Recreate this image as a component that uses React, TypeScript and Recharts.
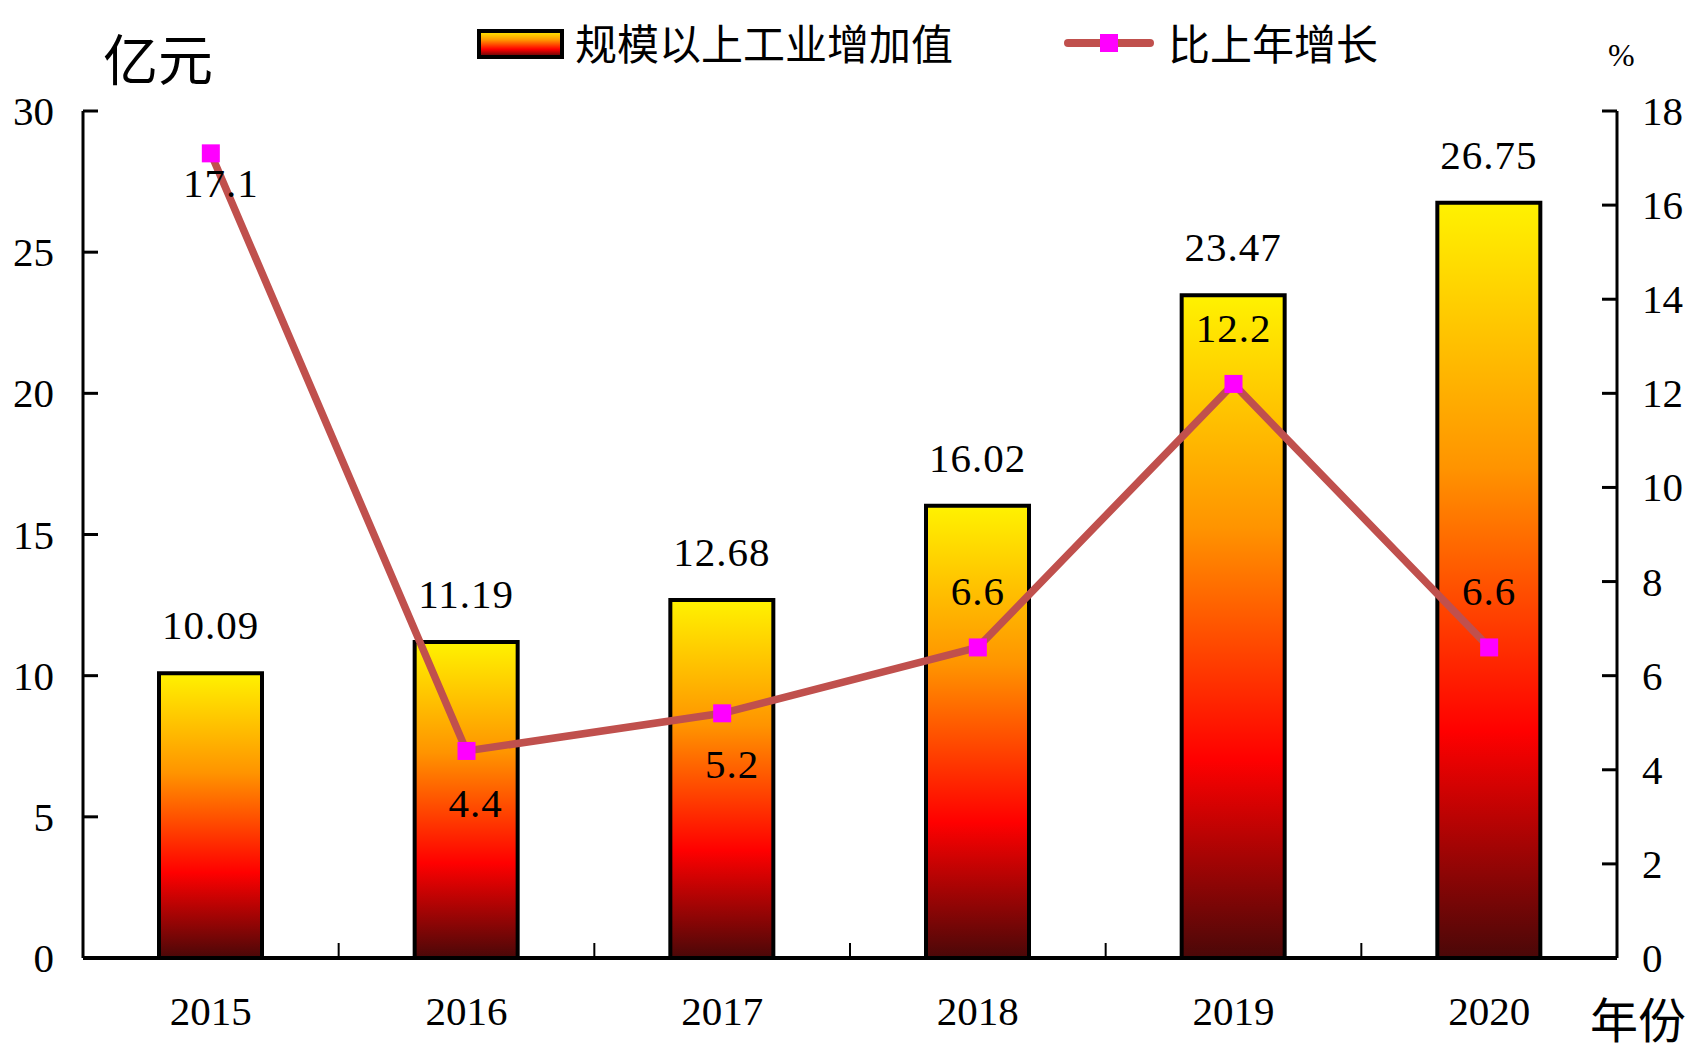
import { Bar, ComposedChart, LabelList, Legend, Line, XAxis, YAxis } from "recharts";

document.body.style.margin = "0";

const years = ["2015", "2016", "2017", "2018", "2019", "2020"];
const addedValue = [10.09, 11.19, 12.68, 16.02, 23.47, 26.75];
const growthRate = [17.1, 4.4, 5.2, 6.6, 12.2, 6.6];
const leftTicks = [0, 5, 10, 15, 20, 25, 30];
const rightTicks = [0, 2, 4, 6, 8, 10, 12, 14, 16, 18];

const data = years.map((year, i) => ({ year, value: addedValue[i], growth: growthRate[i] }));

const WIDTH = 1696;
const HEIGHT = 1053;
const TOP = 111;
const LEFT_AXIS_W = 83;
const RIGHT_AXIS_W = 79;
const X_AXIS_H = 95;
const HALF_BAND = (WIDTH - LEFT_AXIS_W - RIGHT_AXIS_W) / years.length / 2;

const NUM_FONT = '"Liberation Serif", "DejaVu Serif", serif';
const CJK_FONT = '"Noto Sans CJK SC", sans-serif';
const LINE_COLOR = "#C0504D";
const MARKER_COLOR = "#FF00FF";

// where the growth labels sit relative to their point (first three below, rest above)
const growthLabelDy = [44, 66, 65, -42, -42, -42];
const growthLabelDx = [10, 9, 10, 0, 0, 0];

function gradientStops() {
  return [
    <stop key="a" offset="0%" stopColor="#FFF200" />,
    <stop key="b" offset="35%" stopColor="#FF9400" />,
    <stop key="c" offset="70%" stopColor="#FF0000" />,
    <stop key="d" offset="100%" stopColor="#4A0808" />,
  ];
}

function LeftTick({ x, y, payload }: any) {
  return (
    <g>
      <line x1={x} x2={x + 15} y1={y} y2={y} stroke="#000" strokeWidth={3} />
      <text x={x - 29} y={y + 14} textAnchor="end" fontFamily={NUM_FONT} fontSize={41} fill="#000">
        {payload.value}
      </text>
    </g>
  );
}

function RightTick({ x, y, payload }: any) {
  return (
    <g>
      <line x1={x - 15} x2={x} y1={y} y2={y} stroke="#000" strokeWidth={3} />
      <text x={x + 25} y={y + 14} textAnchor="start" fontFamily={NUM_FONT} fontSize={41} fill="#000">
        {payload.value}
      </text>
    </g>
  );
}

function YearTick({ x, y, payload, index }: any) {
  return (
    <g>
      {index < years.length - 1 && (
        <line x1={x + HALF_BAND} x2={x + HALF_BAND} y1={y} y2={y - 15} stroke="#000" strokeWidth={2} />
      )}
      <text x={x} y={y + 67} textAnchor="middle" fontFamily={NUM_FONT} fontSize={41} fill="#000">
        {payload.value}
      </text>
    </g>
  );
}

function BarValueLabel({ x, y, width, value }: any) {
  return (
    <text
      x={x + width / 2}
      y={y - 34}
      textAnchor="middle"
      fontFamily={NUM_FONT}
      fontSize={41}
      letterSpacing={1}
      fill="#000"
    >
      {value}
    </text>
  );
}

function GrowthLabel({ x, y, value, index }: any) {
  return (
    <text
      x={x + growthLabelDx[index]}
      y={y + growthLabelDy[index]}
      textAnchor="middle"
      fontFamily={NUM_FONT}
      fontSize={41}
      letterSpacing={1}
      fill="#000"
    >
      {value}
    </text>
  );
}

function SquareDot({ cx, cy, index }: any) {
  return <rect key={`dot-${index}`} x={cx - 9} y={cy - 9} width={18} height={18} fill={MARKER_COLOR} />;
}

function LegendContent() {
  return (
    <svg width={WIDTH} height={100}>
      <defs>
        <linearGradient id="legendGrad" x1="0" y1="0" x2="0" y2="1">
          {gradientStops()}
        </linearGradient>
      </defs>
      <rect x={479} y={31} width={83} height={26} fill="url(#legendGrad)" stroke="#000" strokeWidth={4} />
      <text x={575} y={60} fontFamily={CJK_FONT} fontSize={42} fill="#000">
        规模以上工业增加值
      </text>
      <line x1={1068} x2={1150} y1={43} y2={43} stroke={LINE_COLOR} strokeWidth={8} strokeLinecap="round" />
      <rect x={1100} y={34} width={18} height={18} fill={MARKER_COLOR} />
      <text x={1168} y={60} fontFamily={CJK_FONT} fontSize={42} fill="#000">
        比上年增长
      </text>
    </svg>
  );
}

export default function App() {
  return (
    <div style={{ width: WIDTH, height: HEIGHT, background: "#fff" }}>
      <ComposedChart width={WIDTH} height={HEIGHT} data={data} margin={{ top: TOP, right: 0, bottom: 0, left: 0 }}>
        <defs>
          <linearGradient id="barGrad" x1="0" y1="0" x2="0" y2="1">
            {gradientStops()}
          </linearGradient>
        </defs>
        <XAxis
          dataKey="year"
          height={X_AXIS_H}
          axisLine={{ stroke: "#000", strokeWidth: 4 }}
          tickLine={false}
          tickSize={0}
          tickMargin={0}
          interval={0}
          tick={<YearTick />}
          label={{
            content: () => (
              <text x={1590} y={1038} fontFamily={CJK_FONT} fontSize={48} fill="#000">
                年份
              </text>
            ),
          }}
        />
        <YAxis
          yAxisId="left"
          orientation="left"
          width={LEFT_AXIS_W}
          domain={[0, 30]}
          ticks={leftTicks}
          interval={0}
          axisLine={{ stroke: "#000", strokeWidth: 3 }}
          tickLine={false}
          tickSize={0}
          tickMargin={0}
          tick={<LeftTick />}
          label={{
            content: () => (
              <text x={103} y={80} fontFamily={CJK_FONT} fontSize={55} fill="#000">
                亿元
              </text>
            ),
          }}
        />
        <YAxis
          yAxisId="right"
          orientation="right"
          width={RIGHT_AXIS_W}
          domain={[0, 18]}
          ticks={rightTicks}
          interval={0}
          axisLine={{ stroke: "#000", strokeWidth: 3 }}
          tickLine={false}
          tickSize={0}
          tickMargin={0}
          tick={<RightTick />}
          label={{
            content: () => (
              <text x={1608} y={66} fontFamily={NUM_FONT} fontSize={32} fill="#000">
                %
              </text>
            ),
          }}
        />
        <Legend
          layout="horizontal"
          verticalAlign="middle"
          align="center"
          wrapperStyle={{ top: 0, left: 0, width: WIDTH, height: 100 }}
          content={<LegendContent />}
        />
        <Bar
          yAxisId="left"
          dataKey="value"
          barSize={103}
          fill="url(#barGrad)"
          stroke="#000"
          strokeWidth={4}
          isAnimationActive={false}
        >
          <LabelList dataKey="value" content={<BarValueLabel />} />
        </Bar>
        <Line
          yAxisId="right"
          type="linear"
          dataKey="growth"
          stroke={LINE_COLOR}
          strokeWidth={7.5}
          dot={<SquareDot />}
          activeDot={false}
          isAnimationActive={false}
        >
          <LabelList dataKey="growth" content={<GrowthLabel />} />
        </Line>
      </ComposedChart>
    </div>
  );
}
